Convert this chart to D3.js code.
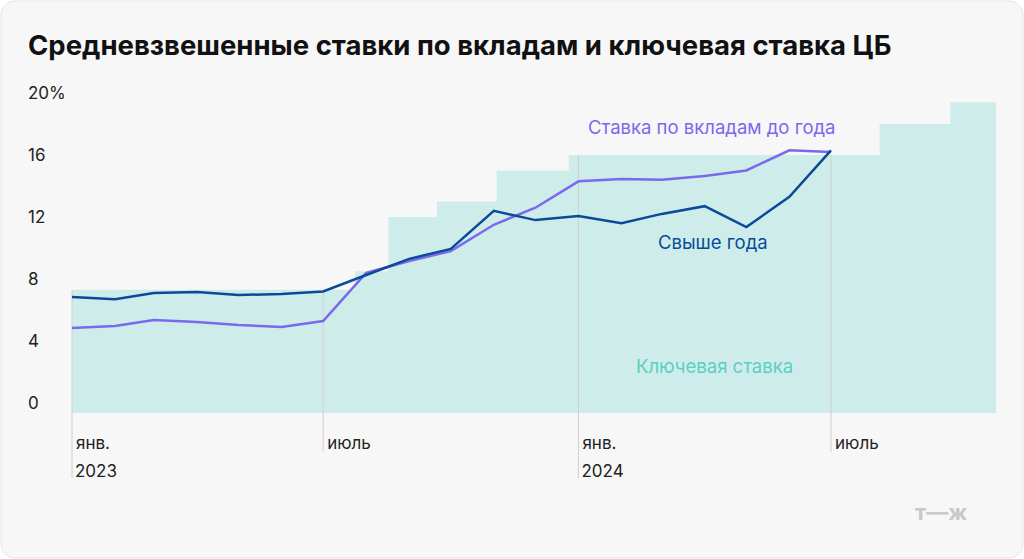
<!DOCTYPE html>
<html>
<head>
<meta charset='utf-8'>
<script src='https://d3js.org/d3.v7.min.js'></script>
<style>body{margin:0;background:#fff;font-family:Inter,'Noto Sans',sans-serif}</style>
</head>
<body>
<script>
// key rate steps: start date, value
const keyDates = ['2023-01-01', '2023-07-24', '2023-08-17', '2023-09-21', '2023-11-03', '2023-12-25', '2024-08-05', '2024-09-25', '2024-10-28'];
const keyRates = [7.3, 8.5, 12, 13, 15, 16, 18, 19.4, 19.4];

const months = ['2023-01', '2023-02', '2023-03', '2023-04', '2023-05', '2023-06', '2023-07', '2023-08', '2023-09', '2023-10',
    '2023-11', '2023-12', '2024-01', '2024-02', '2024-03', '2024-04', '2024-05', '2024-06', '2024-07'];
const overYear = [6.84, 6.7, 7.1, 7.16, 6.97, 7.03, 7.2, 8.26, 9.3, 9.94, 12.4, 11.8, 12.06, 11.6, 12.2, 12.7, 11.35, 13.3, 16.3];
const upToYear = [4.84, 4.97, 5.35, 5.23, 5.03, 4.9, 5.29, 8.39, 9.16, 9.8, 11.5, 12.6, 14.3, 14.45, 14.4, 14.65, 15.0, 16.3, 16.2];

const yTicks = [0, 4, 8, 12, 16, 20];
const xTicks = [['2023-01-01', 'янв.', '2023'], ['2023-07-01', 'июль', ''], ['2024-01-01', 'янв.', '2024'], ['2024-07-01', 'июль', '']];

const W = 1024, H = 559;
const svg = d3.select('body').append('svg').attr('width', W).attr('height', H);
svg.append('rect').attr('x', 1).attr('y', 1).attr('width', W - 2).attr('height', H - 2)
    .attr('rx', 14).attr('fill', '#f7f7f7').attr('stroke', '#e6e6e6');

svg.append('text').attr('x', 28).attr('y', 55).attr('font-size', 27.5).attr('font-weight', 700)
    .attr('fill', '#111').text('Средневзвешенные ставки по вкладам и ключевая ставка ЦБ');

const parse = d3.timeParse('%Y-%m-%d');
const x = d3.scaleTime().domain([parse('2023-01-01'), parse('2024-07-01')]).range([72, 831]);
const y = d3.scaleLinear().domain([0, 16]).range([403, 155]);

// key rate area
const steps = keyDates.map((d, i) => ({ d: parse(d), v: keyRates[i] }));
svg.append('path')
    .datum(steps)
    .attr('fill', '#ceedea')
    .attr('d', d3.area().curve(d3.curveStepAfter)
        .x(d => x(d.d)).y0(y(-0.65)).y1(d => y(d.v)));

const rateAt = dt => steps.filter(s => s.d <= dt).pop().v;

// vertical grid lines
xTicks.forEach(t => {
    const dt = parse(t[0]);
    const xx = x(dt);
    svg.append('line').attr('x1', xx).attr('x2', xx).attr('y1', y(rateAt(dt))).attr('y2', t[2] ? 478 : 452)
        .attr('stroke', '#cfcfcf').attr('stroke-width', 1);
    svg.append('text').attr('x', xx + 4).attr('y', 449).attr('font-size', 17).attr('fill', '#222').text(t[1]);
    if (t[2]) svg.append('text').attr('x', xx + 3).attr('y', 477).attr('font-size', 17).attr('fill', '#222').text(t[2]);
});

// y ticks
yTicks.forEach(v => {
    svg.append('text').attr('x', 28).attr('y', y(v) + 6).attr('font-size', 17).attr('fill', '#222')
        .text(v === 20 ? '20%' : v);
});

const mParse = d3.timeParse('%Y-%m');
const line = d3.line().x((d, i) => x(mParse(months[i]))).y(d => y(d));
svg.append('path').datum(upToYear).attr('fill', 'none').attr('stroke', '#7b68ee').attr('stroke-width', 2.5).attr('d', line);
svg.append('path').datum(overYear).attr('fill', 'none').attr('stroke', '#0b4a9a').attr('stroke-width', 2.5).attr('d', line);

svg.append('text').attr('x', 588).attr('y', 134).attr('font-size', 18.5).attr('fill', '#7b68ee').text('Ставка по вкладам до года');
svg.append('text').attr('x', 658).attr('y', 249).attr('font-size', 18.5).attr('fill', '#0b4a9a').text('Свыше года');
svg.append('text').attr('x', 636).attr('y', 373).attr('font-size', 18.5).attr('fill', '#5ccfc2').text('Ключевая ставка');

svg.append('text').attr('x', 915).attr('y', 520).attr('font-size', 22).attr('font-weight', 700)
    .attr('fill', '#c9c9c9').text('т—ж');
</script>
</body>
</html>
